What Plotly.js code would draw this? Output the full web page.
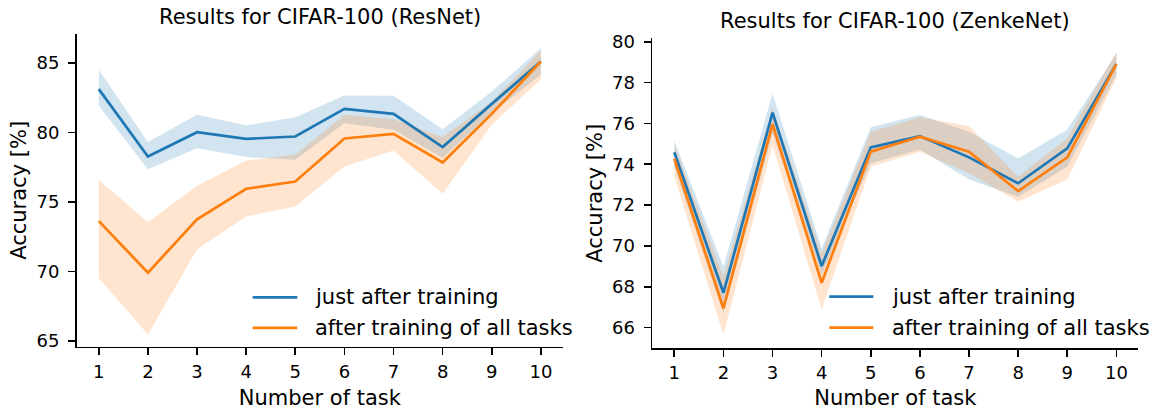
<!DOCTYPE html>
<html>
<head>
<meta charset="utf-8">
<script src="https://cdn.plot.ly/plotly-3.0.1.min.js"></script>
<style>
  html, body { margin: 0; padding: 0; background: #fff; }
  #chart { width: 1156px; height: 410px; }
</style>
</head>
<body>
<div id="chart"></div>
<script>
// Task indices shared by both panels
const tasks = [1, 2, 3, 4, 5, 6, 7, 8, 9, 10];

// CIFAR-100, ResNet: mean accuracy and its band (low / high)
const resnetJust   = [83.13, 78.28, 80.03, 79.55, 79.72, 81.71, 81.35, 78.96, 82.07, 85.12];
const resnetJustLo = [81.93, 77.37, 78.88, 78.24, 78.04, 80.68, 80.20, 78.17, 81.40, 84.16];
const resnetJustHi = [84.52, 79.32, 81.28, 80.51, 81.11, 82.67, 82.65, 80.25, 82.96, 86.08];
const resnetAll    = [73.63, 69.92, 73.76, 75.96, 76.48, 79.58, 79.91, 77.85, 81.35, 85.12];
const resnetAllLo  = [69.53, 65.46, 71.60, 73.97, 74.68, 77.56, 78.71, 75.60, 80.56, 83.85];
const resnetAllHi  = [76.60, 73.55, 76.17, 77.99, 78.40, 81.28, 80.97, 79.68, 82.24, 85.91];

// CIFAR-100, ZenkeNet: mean accuracy and its band (low / high)
const zenkeJust    = [74.59, 67.71, 76.53, 69.02, 74.83, 75.38, 74.34, 73.07, 74.78, 78.91];
const zenkeJustLo  = [73.88, 66.70, 75.52, 68.58, 74.05, 74.73, 73.26, 72.41, 73.88, 78.37];
const zenkeJustHi  = [75.15, 68.99, 77.47, 69.89, 75.81, 76.41, 75.60, 74.29, 75.71, 79.43];
const zenkeAll     = [74.27, 66.95, 75.97, 68.20, 74.62, 75.35, 74.62, 72.69, 74.34, 78.91];
const zenkeAllLo   = [73.42, 65.64, 74.94, 66.90, 73.88, 74.62, 73.56, 72.17, 73.26, 78.21];
const zenkeAllHi   = [74.95, 68.50, 76.74, 69.64, 75.60, 76.30, 75.87, 73.39, 75.27, 79.51];

// Tick labels
const xTickVals = tasks;
const xTickText = tasks.map(String);
const resnetYTicks = [65, 70, 75, 80, 85];
const zenkeYTicks  = [66, 68, 70, 72, 74, 76, 78, 80];

// Series names
const nameJust = 'just after training';
const nameAll  = 'after training of all tasks';

const BLUE = '#1f77b4';
const ORANGE = '#ff7f0e';
const BLUE_FILL = 'rgba(31,119,180,0.2)';
const ORANGE_FILL = 'rgba(255,127,14,0.2)';
const FONT = 'DejaVu Sans, sans-serif';

// Closed polygon for a shaded band: upper edge forward, lower edge back
function band(lo, hi, color, xa, ya) {
  const xs = tasks.concat(tasks.slice().reverse());
  const ys = hi.concat(lo.slice().reverse());
  return {
    x: xs, y: ys, xaxis: xa, yaxis: ya,
    type: 'scatter', mode: 'lines', fill: 'toself',
    fillcolor: color, line: { width: 0, color: 'rgba(0,0,0,0)' },
    hoverinfo: 'skip', showlegend: false
  };
}

function line(y, color, name, xa, ya) {
  return {
    x: tasks, y: y, xaxis: xa, yaxis: ya,
    type: 'scatter', mode: 'lines', name: name,
    line: { color: color, width: 2.7 },
    showlegend: false
  };
}

const data = [
  band(resnetJustLo, resnetJustHi, BLUE_FILL, 'x', 'y'),
  band(resnetAllLo, resnetAllHi, ORANGE_FILL, 'x', 'y'),
  line(resnetJust, BLUE, nameJust, 'x', 'y'),
  line(resnetAll, ORANGE, nameAll, 'x', 'y'),
  band(zenkeJustLo, zenkeJustHi, BLUE_FILL, 'x2', 'y2'),
  band(zenkeAllLo, zenkeAllHi, ORANGE_FILL, 'x2', 'y2'),
  line(zenkeJust, BLUE, nameJust, 'x2', 'y2'),
  line(zenkeAll, ORANGE, nameAll, 'x2', 'y2')
];

const tickFont = { family: FONT, size: 18, color: '#000' };
const labelFont = { family: FONT, size: 21, color: '#000' };

function xAxis(domain, anchor) {
  return {
    domain: domain, anchor: anchor, range: [0.55, 10.45],
    tickmode: 'array', tickvals: xTickVals, ticktext: xTickText,
    showgrid: false, zeroline: false,
    showline: true, linecolor: '#000', linewidth: 1.6,
    ticks: 'outside', ticklen: 7, tickwidth: 1.6, tickcolor: '#000',
    ticklabelstandoff: 1,
    tickfont: tickFont,
    title: { text: 'Number of task', font: labelFont, standoff: 10 },
    automargin: false
  };
}

function yAxis(domain, anchor, range, ticks) {
  return {
    domain: domain, anchor: anchor, range: range,
    tickmode: 'array', tickvals: ticks, ticktext: ticks.map(String),
    showgrid: false, zeroline: false,
    showline: true, linecolor: '#000', linewidth: 1.6,
    ticks: 'outside', ticklen: 7, tickwidth: 1.6, tickcolor: '#000',
    ticklabelstandoff: 5,
    tickfont: tickFont,
    title: { text: 'Accuracy [%]', font: labelFont, standoff: 4 },
    automargin: false
  };
}

// Hand-placed legends (line sample + label) inside each panel
const shapes = [];
const annotations = [];
function legend(xa, ya, x0, x1, x2, yJust, yAll) {
  [[yJust, BLUE, nameJust], [yAll, ORANGE, nameAll]].forEach(function (e) {
    shapes.push({
      type: 'line', xref: xa + ' domain', yref: ya + ' domain',
      x0: x0, x1: x1, y0: e[0], y1: e[0],
      line: { color: e[1], width: 2.7 }
    });
    annotations.push({
      xref: xa + ' domain', yref: ya + ' domain', x: x2, y: e[0],
      xanchor: 'left', yanchor: 'middle', showarrow: false,
      text: e[2], font: labelFont
    });
  });
}
legend('x', 'y', 0.3619, 0.4536, 0.4865, 0.158, 0.060);
legend('x2', 'y2', 0.3642, 0.4547, 0.489, 0.167, 0.067);

// Panel titles
annotations.push({
  xref: 'x domain', yref: 'paper', x: 0.5, y: 0.958,
  xanchor: 'center', yanchor: 'middle', showarrow: false,
  text: 'Results for CIFAR-100 (ResNet)', font: labelFont
});
annotations.push({
  xref: 'x2 domain', yref: 'paper', x: 0.5, y: 0.950,
  xanchor: 'center', yanchor: 'middle', showarrow: false,
  text: 'Results for CIFAR-100 (ZenkeNet)', font: labelFont
});

const layout = {
  width: 1156, height: 410,
  margin: { l: 0, r: 0, t: 0, b: 0 },
  paper_bgcolor: '#fff', plot_bgcolor: '#fff',
  showlegend: false,
  font: { family: FONT, color: '#000' },
  xaxis: xAxis([0.06635, 0.48702], 'y'),
  yaxis: yAxis([0.15439, 0.91707], 'x', [64.59, 87.1], resnetYTicks),
  xaxis2: xAxis([0.56418, 0.98486], 'y2'),
  yaxis2: yAxis([0.15049, 0.90659], 'x2', [64.99, 80.17], zenkeYTicks),
  shapes: shapes,
  annotations: annotations
};

Plotly.newPlot('chart', data, layout, { displayModeBar: false, staticPlot: true });
</script>
</body>
</html>
